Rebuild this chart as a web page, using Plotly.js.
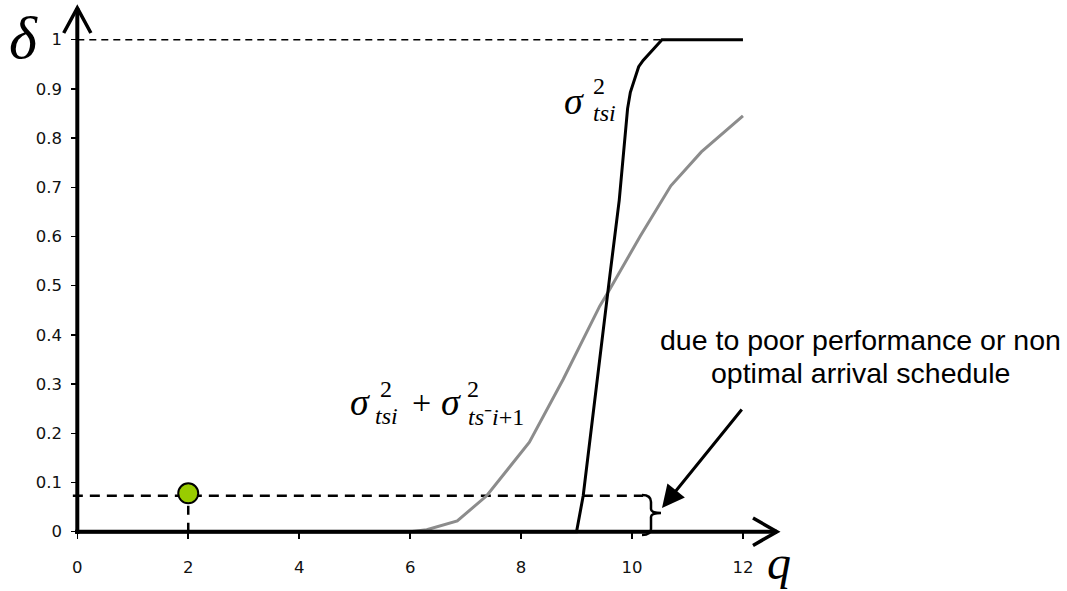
<!DOCTYPE html>
<html>
<head>
<meta charset="utf-8">
<script src="https://cdn.plot.ly/plotly-3.0.1.min.js"></script>
<style>html,body{margin:0;padding:0;background:#fff;}#chart{width:1067px;height:591px;}</style>
</head>
<body>
<div id="chart"></div>
<script>
// ---- data ----
const xTicks = [0, 2, 4, 6, 8, 10, 12];
const yTicks = [0, 0.1, 0.2, 0.3, 0.4, 0.5, 0.6, 0.7, 0.8, 0.9, 1];
const yTickText = ['0', '0.1', '0.2', '0.3', '0.4', '0.5', '0.6', '0.7', '0.8', '0.9', '1'];

// sigma_tsi^2 curve (black)
const blackQ = [0, 9.0, 9.12, 9.42, 9.6, 9.77, 9.85, 9.92, 9.97, 10.03, 10.08, 10.12, 10.2, 10.29, 10.4, 10.54, 12];
const blackD = [0, 0, 0.073, 0.36, 0.52, 0.674, 0.776, 0.86, 0.893, 0.915, 0.932, 0.945, 0.958, 0.969, 0.984, 1.0, 1.0];

// sigma_tsi^2 + sigma_ts-i+1^2 curve (gray)
const grayQ = [0, 6.0, 6.3, 6.85, 7.38, 8.15, 8.76, 9.42, 9.6, 10.15, 10.7, 11.25, 12];
const grayD = [0, 0, 0.004, 0.022, 0.073, 0.182, 0.31, 0.459, 0.493, 0.601, 0.703, 0.772, 0.845];

// highlighted point and threshold level
const pointQ = [2];
const pointD = [0.078];
const thresholdD = 0.073;
const thresholdEndQ = 10.2;
const topLevel = 1;
const topLineEndQ = 11.75;

// ---- layout geometry ----
const W = 1067, H = 591;
const M = {l: 55, r: 280, t: 3, b: 40};
const xRange = [-0.402, 12.794];
const yRange = [-0.0392, 1.0746];
const plotW = W - M.l - M.r, plotH = H - M.t - M.b;
// pixel -> data / paper helpers (for decoration and label placement only)
const X = px => xRange[0] + (px - M.l) / plotW * (xRange[1] - xRange[0]);
const Y = py => yRange[0] + (H - M.b - py) / plotH * (yRange[1] - yRange[0]);
const PX = px => (px - M.l) / plotW;
const PY = py => (H - M.b - py) / plotH;

const traces = [
  {x: [xRange[0] * 0.2, thresholdEndQ], y: [thresholdD, thresholdD], mode: 'lines',
   line: {color: '#000', width: 2.5, dash: '10px,7px'}, hoverinfo: 'skip'},
  {x: [pointQ[0], pointQ[0]], y: [0, pointD[0]], mode: 'lines',
   line: {color: '#000', width: 2.5, dash: '9px,8px'}, hoverinfo: 'skip'},
  {x: grayQ, y: grayD, mode: 'lines', line: {color: '#8c8c8c', width: 3}},
  {x: blackQ, y: blackD, mode: 'lines', line: {color: '#000', width: 3}},
  {x: pointQ, y: pointD, mode: 'markers',
   marker: {size: 20, color: '#99cc00', line: {color: '#000', width: 2}}}
];

const fontSerif = 'Liberation Serif';
function ann(px, py, text, size, family, extra) {
  return Object.assign({x: PX(px), y: PY(py), xref: 'paper', yref: 'paper', text: text, showarrow: false,
    xanchor: 'center', yanchor: 'middle', font: {family: family, size: size, color: '#000'}}, extra || {});
}

const annotations = [
  ann(23, 38, '<i>δ</i>', 60, fontSerif),
  ann(779, 562, '<i>q</i>', 48, fontSerif),
  // sigma_tsi^2 label
  ann(574, 101, '<i>σ</i>', 38, fontSerif),
  ann(599, 86, '2', 24, fontSerif),
  ann(604, 113.5, '<i>tsi</i>', 24, fontSerif),
  // sigma_tsi^2 + sigma_ts-i+1^2 label
  ann(360, 402, '<i>σ</i>', 38, fontSerif),
  ann(386, 389, '2', 24, fontSerif),
  ann(386, 416, '<i>tsi</i>', 24, fontSerif),
  ann(421, 402, '+', 34, fontSerif),
  ann(451, 402, '<i>σ</i>', 38, fontSerif),
  ann(473, 389, '2', 24, fontSerif),
  ann(496, 416.5, '<i>ts</i>⁻<i>i</i>+1', 24, fontSerif),
  // explanatory text
  ann(860, 340, 'due to poor performance or non', 28.5, 'Liberation Sans'),
  ann(860, 373, 'optimal arrival schedule', 28.5, 'Liberation Sans'),
  // arrow to the brace
  {x: X(662), y: Y(508), xref: 'x', yref: 'y', ax: 81, ay: -100, text: '', showarrow: true,
   arrowhead: 2, arrowsize: 1.5, arrowwidth: 3, arrowcolor: '#000'}
];

const bx0 = X(642), bx1 = X(651), bx2 = X(661);
const by0 = Y(495), by1 = Y(502), by2 = Y(509), by3 = Y(513), by4 = Y(517), by5 = Y(529), by6 = Y(535);
const bracePath = `M ${bx0},${by0} Q ${bx1},${by0} ${bx1},${by1} L ${bx1},${by2} Q ${bx1},${by3} ${bx2},${by3} ` +
  `Q ${bx1},${by3} ${bx1},${by4} L ${bx1},${by5} Q ${bx1},${by6} ${bx0},${by6}`;

const yTip = Y(8), yArm = Y(33), xArmY = 0.245;
const xTip = X(777), xArm = X(753), yArmX = Y(518) - Y(531.7);

const shapes = [
  // dashed line at delta = 1
  {type: 'line', xref: 'x', yref: 'y', x0: 0, x1: topLineEndQ, y0: topLevel, y1: topLevel, layer: 'below',
   line: {color: '#000', width: 1.5, dash: '7px,5px'}},
  // y axis with arrow
  {type: 'line', xref: 'x', yref: 'y', x0: 0, x1: 0, y0: Y(534), y1: yTip, line: {color: '#000', width: 4}},
  {type: 'path', xref: 'x', yref: 'y', path: `M ${-xArmY},${yArm} L 0,${yTip} L ${xArmY},${yArm}`,
   line: {color: '#000', width: 3.5}},
  // x axis with arrow
  {type: 'line', xref: 'x', yref: 'y', x0: X(75), x1: xTip, y0: 0, y1: 0, line: {color: '#000', width: 4}},
  {type: 'path', xref: 'x', yref: 'y', path: `M ${xArm},${yArmX} L ${xTip},0 L ${xArm},${-yArmX}`,
   line: {color: '#000', width: 3.5}},
  // brace
  {type: 'path', xref: 'x', yref: 'y', path: bracePath, line: {color: '#000', width: 2.5}}
];

const tickFont = {family: 'DejaVu Sans', size: 16.5, color: '#111'};
const layout = {
  width: W, height: H, margin: M, showlegend: false,
  paper_bgcolor: '#fff', plot_bgcolor: '#fff',
  xaxis: {range: xRange, domain: [0, 1], anchor: 'free', position: (0 - yRange[0]) / (yRange[1] - yRange[0]),
    tickvals: xTicks, ticktext: xTicks.map(String), ticks: 'outside', ticklen: 6, tickwidth: 1.5, tickcolor: '#000',
    showline: false, showgrid: false, zeroline: false, tickfont: tickFont, ticklabelstandoff: 14, fixedrange: true},
  yaxis: {range: yRange, domain: [0, 1], anchor: 'free', position: (0 - xRange[0]) / (xRange[1] - xRange[0]),
    tickvals: yTicks, ticktext: yTickText, ticks: 'outside', ticklen: 6, tickwidth: 1.5, tickcolor: '#000',
    showline: false, showgrid: false, zeroline: false, tickfont: tickFont, ticklabelstandoff: 6, fixedrange: true},
  shapes: shapes,
  annotations: annotations
};

Plotly.newPlot('chart', traces, layout, {displayModeBar: false, staticPlot: true});
</script>
</body>
</html>
